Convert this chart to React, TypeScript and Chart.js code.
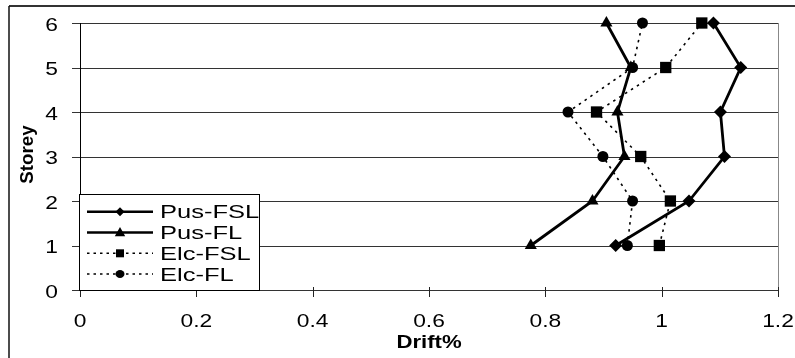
import React, { useEffect, useRef } from 'react';
import { Chart, registerables } from 'chart.js';

Chart.register(...registerables);

// Storey drift profiles (x = drift %, y = storey)
const storeys = [1, 2, 3, 4, 5, 6];
const pusFSL = [0.921, 1.047, 1.108, 1.101, 1.136, 1.089];
const pusFL = [0.775, 0.881, 0.936, 0.924, 0.947, 0.905];
const elcFSL = [0.996, 1.015, 0.964, 0.888, 1.007, 1.069];
const elcFL = [0.941, 0.95, 0.899, 0.839, 0.95, 0.967];

const seriesNames = ['Pus-FSL', 'Pus-FL', 'Elc-FSL', 'Elc-FL'];
const xTicks = [0, 0.2, 0.4, 0.6, 0.8, 1, 1.2];
const xTickLabels = ['0', '0.2', '0.4', '0.6', '0.8', '1', '1.2'];
const yTicks = [0, 1, 2, 3, 4, 5, 6];
const yTickLabels = ['0', '1', '2', '3', '4', '5', '6'];
const xTitle = 'Drift%';
const yTitle = 'Storey';

const FONT = '"Liberation Sans", Arial, sans-serif';

type Style = {
  point: string;
  radius: number;
  dashed: boolean;
};

const styles: Style[] = [
  { point: 'rectRot', radius: 6.5, dashed: false },
  { point: 'triangle', radius: 7, dashed: false },
  { point: 'rect', radius: 8, dashed: true },
  { point: 'circle', radius: 5.5, dashed: true },
];

function toPoints(values: number[]) {
  return values.map((v, i) => ({ x: v, y: storeys[i] }));
}

function wideText(
  ctx: CanvasRenderingContext2D,
  text: string,
  x: number,
  y: number,
  align: CanvasTextAlign,
  sx: number
) {
  ctx.save();
  ctx.translate(x, y);
  ctx.scale(sx, 1);
  ctx.textAlign = align;
  ctx.textBaseline = 'alphabetic';
  ctx.fillText(text, 0, 0);
  ctx.restore();
}

function legendMarker(ctx: CanvasRenderingContext2D, kind: string, x: number, y: number) {
  ctx.beginPath();
  if (kind === 'rectRot') {
    const r = 4.5;
    ctx.moveTo(x, y - r);
    ctx.lineTo(x + r, y);
    ctx.lineTo(x, y + r);
    ctx.lineTo(x - r, y);
    ctx.closePath();
  } else if (kind === 'triangle') {
    const r = 5.5;
    ctx.moveTo(x, y - r);
    ctx.lineTo(x + r * 0.95, y + r * 0.7);
    ctx.lineTo(x - r * 0.95, y + r * 0.7);
    ctx.closePath();
  } else if (kind === 'rect') {
    ctx.rect(x - 4, y - 4, 8, 8);
  } else {
    ctx.ellipse(x, y, 4.5, 4, 0, 0, Math.PI * 2);
  }
  ctx.fill();
}

const framePlugin = {
  id: 'frame',
  beforeDatasetsDraw(chart: any) {
    const ctx: CanvasRenderingContext2D = chart.ctx;
    const { left, right, top, bottom } = chart.chartArea;
    const xs = chart.scales.x;
    const ys = chart.scales.y;
    ctx.save();

    // outer chart border
    ctx.strokeStyle = '#333';
    ctx.lineWidth = 2;
    ctx.beginPath();
    ctx.moveTo(9, 6);
    ctx.lineTo(chart.width + 2, 6);
    ctx.stroke();
    ctx.strokeStyle = '#111';
    ctx.lineWidth = 1.5;
    ctx.beginPath();
    ctx.moveTo(9, 6);
    ctx.lineTo(9, chart.height + 2);
    ctx.stroke();

    // horizontal grid lines
    ctx.strokeStyle = '#333';
    ctx.lineWidth = 1;
    yTicks.forEach((t) => {
      const y = Math.round(ys.getPixelForValue(t)) + 0.5;
      ctx.beginPath();
      ctx.moveTo(left - 8, y);
      ctx.lineTo(right, y);
      ctx.stroke();
    });

    // right border of plot area
    ctx.strokeStyle = '#888';
    ctx.beginPath();
    ctx.moveTo(Math.round(right) + 0.5, top);
    ctx.lineTo(Math.round(right) + 0.5, bottom);
    ctx.stroke();

    // y axis line
    ctx.strokeStyle = '#000';
    ctx.beginPath();
    ctx.moveTo(Math.round(left) + 0.5, top);
    ctx.lineTo(Math.round(left) + 0.5, bottom);
    ctx.stroke();

    // x axis ticks
    ctx.strokeStyle = '#222';
    xTicks.forEach((t) => {
      const x = Math.round(xs.getPixelForValue(t)) + 0.5;
      ctx.beginPath();
      ctx.moveTo(x, bottom - 3);
      ctx.lineTo(x, bottom + 7);
      ctx.stroke();
    });

    // tick labels
    ctx.fillStyle = '#000';
    ctx.font = `19px ${FONT}`;
    xTicks.forEach((t, i) => {
      wideText(ctx, xTickLabels[i], xs.getPixelForValue(t), bottom + 37, 'center', 1.2);
    });
    yTicks.forEach((t, i) => {
      wideText(ctx, yTickLabels[i], left - 22, ys.getPixelForValue(t) + 7.5, 'right', 1.2);
    });

    // axis titles
    ctx.font = `bold 18px ${FONT}`;
    wideText(ctx, xTitle, (left + right) / 2, bottom + 58, 'center', 1.23);
    ctx.save();
    ctx.translate(33, (top + bottom) / 2 - 2);
    ctx.rotate(-Math.PI / 2);
    ctx.scale(1.04, 1);
    ctx.textAlign = 'center';
    ctx.fillText(yTitle, 0, 0);
    ctx.restore();

    ctx.restore();
  },
  afterDatasetsDraw(chart: any) {
    const ctx: CanvasRenderingContext2D = chart.ctx;
    const { left, bottom } = chart.chartArea;
    ctx.save();

    // legend box inside the plot area
    const bx = Math.round(left) - 0.5;
    const by = 194.5;
    const bw = 180;
    const bh = Math.round(bottom) - 194;
    ctx.fillStyle = '#fff';
    ctx.fillRect(bx, by, bw, bh);
    ctx.strokeStyle = '#000';
    ctx.lineWidth = 1;
    ctx.strokeRect(bx, by, bw, bh);

    const rowY = [211.7, 232.5, 253.3, 274];
    seriesNames.forEach((name, i) => {
      const st = styles[i];
      const y = rowY[i];
      ctx.strokeStyle = '#000';
      ctx.fillStyle = '#000';
      ctx.lineWidth = st.dashed ? 1.6 : 2.5;
      ctx.setLineDash(st.dashed ? [2.5, 4] : []);
      ctx.beginPath();
      ctx.moveTo(87, y);
      ctx.lineTo(153, y);
      ctx.stroke();
      ctx.setLineDash([]);
      legendMarker(ctx, st.point, 120, y);
      ctx.font = `18.5px ${FONT}`;
      wideText(ctx, name, 160, y + 6.6, 'left', 1.38);
    });

    ctx.restore();
  },
};

export default function App() {
  const canvasRef = useRef<HTMLCanvasElement | null>(null);

  useEffect(() => {
    const canvas = canvasRef.current;
    if (!canvas) return;
    const seriesValues = [pusFSL, pusFL, elcFSL, elcFL];
    const drawOrder = [3, 2, 1, 0];
    const chart = new Chart(canvas, {
      type: 'scatter',
      data: {
        datasets: seriesNames.map((name, i) => ({
          label: name,
          data: toPoints(seriesValues[i]),
          showLine: true,
          order: drawOrder[i],
          borderColor: '#000',
          backgroundColor: '#000',
          borderWidth: styles[i].dashed ? 1.6 : 2.8,
          borderDash: styles[i].dashed ? [2.5, 4.5] : [],
          pointStyle: styles[i].point as any,
          pointRadius: styles[i].radius,
          pointBorderWidth: 0,
          pointBackgroundColor: '#000',
          pointBorderColor: '#000',
          tension: 0,
          clip: false as any,
        })),
      },
      options: {
        animation: false,
        responsive: false,
        events: [],
        layout: { padding: { left: 80, right: 17, top: 23, bottom: 68 } },
        plugins: {
          legend: { display: false },
          tooltip: { enabled: false },
        },
        scales: {
          x: { type: 'linear', min: 0, max: 1.2, display: false },
          y: { type: 'linear', min: 0, max: 6, display: false },
        },
      },
      plugins: [framePlugin],
    });
    return () => chart.destroy();
  }, []);

  return (
    <div style={{ position: 'fixed', left: 0, top: 0, width: 795, height: 358, background: '#fff' }}>
      <canvas ref={canvasRef} width={795} height={358} style={{ display: 'block' }} />
    </div>
  );
}
